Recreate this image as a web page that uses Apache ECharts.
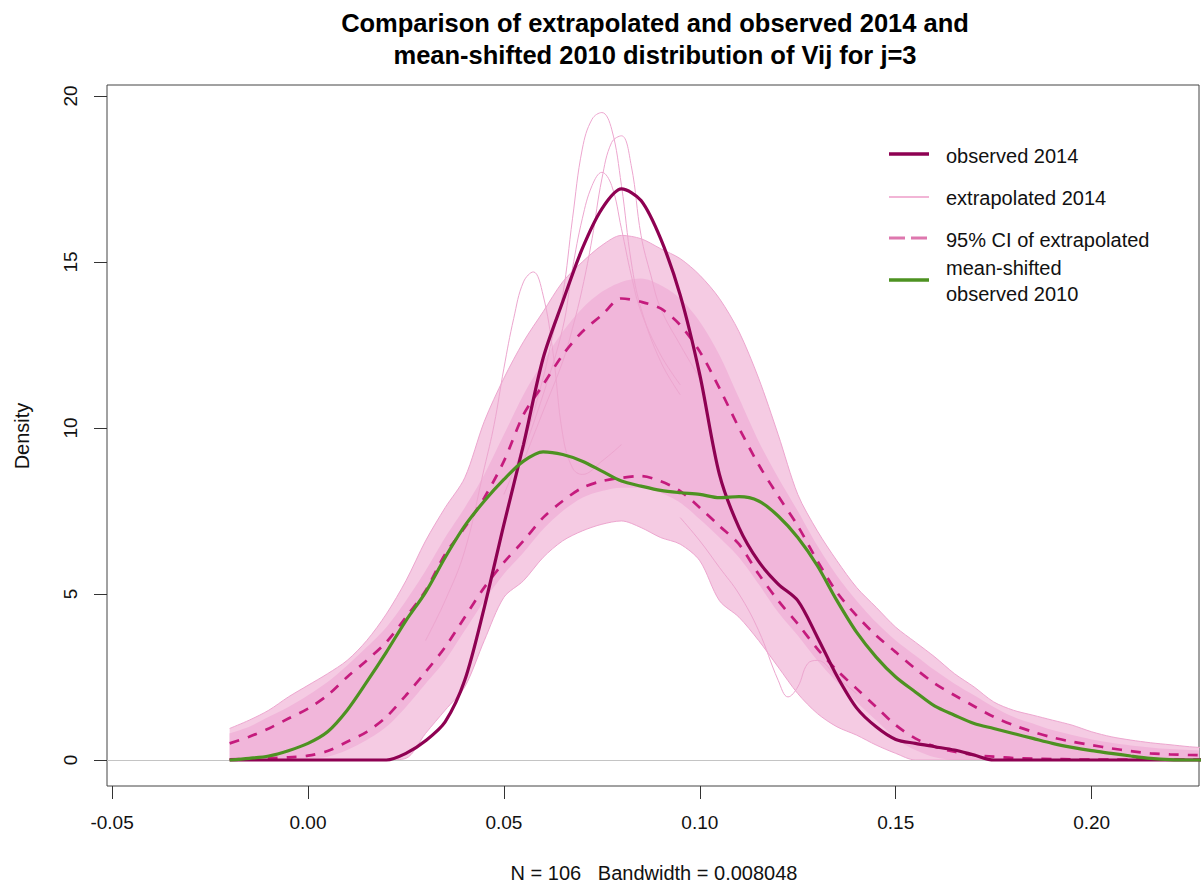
<!DOCTYPE html>
<html>
<head>
<meta charset="utf-8">
<script src="https://cdn.jsdelivr.net/npm/echarts@6/dist/echarts.min.js"></script>
<style>html,body{margin:0;padding:0;background:#fff}#c{width:1201px;height:890px}</style>
</head>
<body>
<div id="c"></div>
<script>
// ---- data ----
const xGrid = [-0.02,-0.015,-0.01,-0.005,0,0.005,0.01,0.015,0.02,0.025,0.03,0.035,0.04,0.045,0.05,0.055,0.06,0.065,0.07,0.075,0.08,0.085,0.09,0.095,0.1,0.105,0.11,0.115,0.12,0.125,0.13,0.135,0.14,0.145,0.15,0.155,0.16,0.165,0.17,0.175,0.18,0.185,0.19,0.195,0.2,0.205,0.21,0.215,0.22,0.225,0.23];
const observed2014 = [0,0,0,0,0,0,0,0,0,0.2,0.58,1.15,2.4,4.6,7.1,9.5,12.1,13.8,15.4,16.6,17.2,16.85,15.7,14.0,11.6,8.6,7.0,5.98,5.3,4.8,3.7,2.53,1.57,1.0,0.62,0.5,0.4,0.3,0.15,0,0,0,0,0,0,0,0,0,0,0,0];
const meanShifted2010 = [0,0.05,0.12,0.28,0.5,0.85,1.5,2.35,3.25,4.2,5.05,6.1,7.05,7.8,8.45,9.0,9.28,9.2,9.0,8.7,8.4,8.25,8.12,8.05,8.0,7.9,7.93,7.8,7.35,6.7,5.85,4.8,3.85,3.1,2.5,2.05,1.62,1.35,1.1,0.95,0.8,0.65,0.5,0.38,0.28,0.2,0.12,0.05,0.01,0,0];
const ciUpper = [0.5,0.7,0.95,1.25,1.55,1.95,2.5,3.0,3.55,4.3,5.1,6.2,7.0,7.9,9.0,10.4,11.3,12.2,12.9,13.4,13.9,13.8,13.6,13.1,12.3,11.2,10.0,8.9,7.95,7.05,6.0,5.05,4.35,3.75,3.25,2.75,2.3,1.95,1.62,1.3,1.05,0.85,0.68,0.55,0.45,0.35,0.27,0.2,0.17,0.15,0.14];
const ciLower = [0.02,0.03,0.05,0.08,0.13,0.27,0.55,0.85,1.3,1.95,2.65,3.4,4.3,5.2,5.95,6.6,7.3,7.8,8.2,8.4,8.5,8.55,8.4,8.1,7.6,7.05,6.5,5.6,4.8,4.1,3.35,2.7,2.15,1.6,1.05,0.65,0.4,0.25,0.15,0.1,0.06,0.04,0.03,0.02,0.01,0.01,0.01,0.01,0.01,0.01,0.01];
// envelopes of the bundle of extrapolated curves
const bundleOuterLow  = [0,0,0,0,0,0,0,0,0,0.05,0.8,1.5,2.2,3.6,4.9,5.4,6.1,6.6,6.9,7.1,7.2,7.0,6.7,6.5,6.0,4.8,4.3,3.6,2.8,2.0,1.4,1.0,0.75,0.45,0.2,0,0,0,0,0,0,0,0,0,0,0,0,0,0,0,0];
const bundleDenseLow  = [0,0,0,0.02,0.05,0.1,0.3,0.6,1.0,1.6,2.3,3.0,3.9,4.8,5.6,6.25,6.95,7.5,7.9,8.1,8.2,8.2,8.05,7.75,7.25,6.7,6.1,5.3,4.45,3.75,3.0,2.35,1.75,1.2,0.65,0.3,0.08,0,0,0,0,0,0,0,0,0,0,0,0,0,0];
const bundleDenseHigh = [0.8,1.0,1.3,1.6,1.95,2.35,2.85,3.4,4.0,4.8,5.7,6.7,7.6,8.6,9.8,11.0,12.0,12.9,13.6,14.1,14.4,14.5,14.3,13.9,13.2,12.2,10.9,9.6,8.5,7.5,6.45,5.55,4.8,4.15,3.6,3.15,2.7,2.3,1.95,1.6,1.3,1.1,0.9,0.75,0.62,0.52,0.44,0.38,0.33,0.3,0.28];
const bundleOuterHigh = [0.95,1.2,1.5,1.9,2.25,2.6,3.0,3.6,4.4,5.4,6.6,7.6,8.5,10.2,11.5,12.6,13.5,14.4,15.0,15.5,15.8,15.7,15.4,15.1,14.6,13.9,12.9,11.5,9.8,8.0,6.9,6.0,5.2,4.6,4.0,3.55,3.1,2.6,2.2,1.75,1.5,1.35,1.2,1.05,0.85,0.7,0.6,0.52,0.46,0.4,0.36];
// individual extrapolated curves that stand out of the bundle
const curveA_x = [0.05,0.055,0.06,0.0625,0.065,0.0675,0.07,0.0725,0.075,0.0775,0.08,0.0825,0.085,0.09,0.095];
const curveA_y = [8.0,9.5,11.5,12.8,14.0,16.3,18.4,19.3,19.5,19.0,17.3,15.0,13.6,12.0,11.0];
const curveB_x = [0.055,0.06,0.065,0.0675,0.07,0.0725,0.075,0.0775,0.08,0.0825,0.085,0.0875,0.09,0.095,0.1];
const curveB_y = [9.0,10.5,12.0,13.0,14.2,15.7,17.5,18.6,18.8,17.9,15.8,14.6,13.6,12.5,11.5];
const curveC_x = [0.055,0.06,0.065,0.0675,0.07,0.0725,0.075,0.0775,0.08,0.0825,0.085,0.09,0.095];
const curveC_y = [9.3,11.0,13.0,14.8,16.3,17.3,17.7,17.3,16.0,14.6,13.5,12.2,11.3];
const curveD_x = [0.03,0.035,0.04,0.045,0.0475,0.05,0.0525,0.055,0.0575,0.06,0.0625,0.065,0.0675,0.07,0.075,0.08];
const curveD_y = [3.6,4.8,6.3,8.8,10.1,11.8,13.3,14.4,14.7,14.0,12.3,9.8,8.8,8.6,9.0,9.5];
const curveE_x = [0.095,0.1,0.105,0.11,0.115,0.12,0.1225,0.125,0.1275,0.13,0.135,0.14];
const curveE_y = [7.3,6.6,5.8,5.0,3.9,2.4,1.9,2.2,2.9,3.0,2.5,2.0];
const xTicks = [-0.05,0,0.05,0.1,0.15,0.2];
const yTicks = [0,5,10,15,20];

// ---- chart ----
const FONT = '"Liberation Sans", Arial, sans-serif';
const C_OBS = '#8E0152', C_CI = '#C51B7D', C_GREEN = '#4D9221';
const C_DENSE = '#F1B6DA', C_LIGHT = '#F5CBE3', C_THIN = '#EDA6CF';
const pairs = (xs, ys) => xs.map((x, i) => [x, ys[i]]);

// bands are painted as opaque layers from the baseline, highest first
const layer = (ys, color) => ({type:'line', data:pairs(xGrid, ys), symbol:'none', smooth:0.3, silent:true, z:2,
  lineStyle:{width:0, opacity:0}, areaStyle:{color:color, opacity:1, origin:0}});
const thin = (xs, ys, sm) => ({type:'line', data:pairs(xs, ys), symbol:'none', smooth:sm, silent:true, z:3,
  lineStyle:{color:C_THIN, width:1}});
const series = [
  layer(bundleOuterHigh, C_LIGHT),
  layer(bundleDenseHigh, C_DENSE),
  layer(bundleDenseLow, C_LIGHT),
  layer(bundleOuterLow, '#ffffff'),
  {type:'line', data:[], symbol:'none', silent:true, z:2,
   markLine:{silent:true, symbol:'none', label:{show:false}, lineStyle:{color:'#c4c4c4', width:1, type:'solid'}, data:[{yAxis:0}]}},
  thin(xGrid, bundleOuterHigh, 0.3),
  thin(xGrid, bundleOuterLow, 0.3),
  thin(curveA_x, curveA_y, 0.4),
  thin(curveB_x, curveB_y, 0.4),
  thin(curveC_x, curveC_y, 0.4),
  thin(curveD_x, curveD_y, 0.4),
  thin(curveE_x, curveE_y, 0.4),
  {name:'95% CI upper', type:'line', data:pairs(xGrid, ciUpper), symbol:'none', smooth:0.3, z:4,
   lineStyle:{color:C_CI, width:2.7, type:[10,9]}},
  {name:'95% CI lower', type:'line', data:pairs(xGrid, ciLower), symbol:'none', smooth:0.3, z:4,
   lineStyle:{color:C_CI, width:2.7, type:[10,9]}},
  {name:'observed 2014', type:'line', data:pairs(xGrid, observed2014), symbol:'none', smooth:0.3, z:5,
   lineStyle:{color:C_OBS, width:3.2}},
  {name:'mean-shifted observed 2010', type:'line', data:pairs(xGrid, meanShifted2010), symbol:'none', smooth:0.3, z:6,
   lineStyle:{color:C_GREEN, width:3.2}}
];

const txt = (t, x, y, extra) => ({type:'text', x:x, y:y, silent:true, z:100,
  style:Object.assign({text:t, font:'20px ' + FONT, fill:'#111', textAlign:'left', textVerticalAlign:'middle'}, extra||{})});
const seg = (x1, x2, y, stroke, w, dash) => ({type:'line', silent:true, z:100,
  shape:{x1:x1, y1:y, x2:x2, y2:y}, style:{stroke:stroke, lineWidth:w, lineDash:dash||null}});

const chart = echarts.init(document.getElementById('c'), null, {renderer:'svg'});
chart.setOption({
  animation:false,
  backgroundColor:'#fff',
  grid:{left:107, right:2, top:85, bottom:104, show:true, borderColor:'#444', borderWidth:1, containLabel:false},
  xAxis:{type:'value', min:-0.0513, max:0.2274,
    axisLine:{show:false, onZero:false}, splitLine:{show:false},
    axisTick:{show:true, length:13, lineStyle:{color:'#333'}, customValues:xTicks},
    axisLabel:{customValues:xTicks, margin:27, color:'#111', fontSize:19, fontFamily:FONT,
      formatter:v => v.toFixed(2)}},
  yAxis:{type:'value', min:-0.783, max:20.33,
    axisLine:{show:false, onZero:false}, splitLine:{show:false},
    axisTick:{show:true, length:13, lineStyle:{color:'#333'}, customValues:yTicks},
    axisLabel:{customValues:yTicks, margin:27, rotate:90, color:'#111', fontSize:19, fontFamily:FONT,
      formatter:v => String(v)}},
  series:series,
  graphic:[
    {type:'text', x:655, y:7, silent:true, style:{text:'Comparison of extrapolated and observed 2014 and\nmean-shifted 2010 distribution of Vij for j=3',
      font:'bold 25.5px ' + FONT, fill:'#000', textAlign:'center', textVerticalAlign:'top', lineHeight:32}},
    {type:'text', x:22, y:436, rotation:Math.PI/2, silent:true, style:{text:'Density', font:'20px ' + FONT, fill:'#111', textAlign:'center', textVerticalAlign:'middle'}},
    {type:'text', x:654, y:873, silent:true, style:{text:'N = 106   Bandwidth = 0.008048', font:'20px ' + FONT, fill:'#111', textAlign:'center', textVerticalAlign:'middle', whiteSpace:'pre'}},
    seg(889, 929, 154, C_OBS, 3.3),
    txt('observed 2014', 946, 156),
    seg(889, 929, 197, '#EE9CC8', 1.3),
    txt('extrapolated 2014', 946, 198),
    seg(889, 929, 238, '#DE77AE', 3, [16,6]),
    txt('95% CI of extrapolated', 946, 240),
    seg(889, 929, 280, C_GREEN, 3.3),
    txt('mean-shifted', 946, 268),
    txt('observed 2010', 946, 294)
  ]
});
</script>
</body>
</html>
